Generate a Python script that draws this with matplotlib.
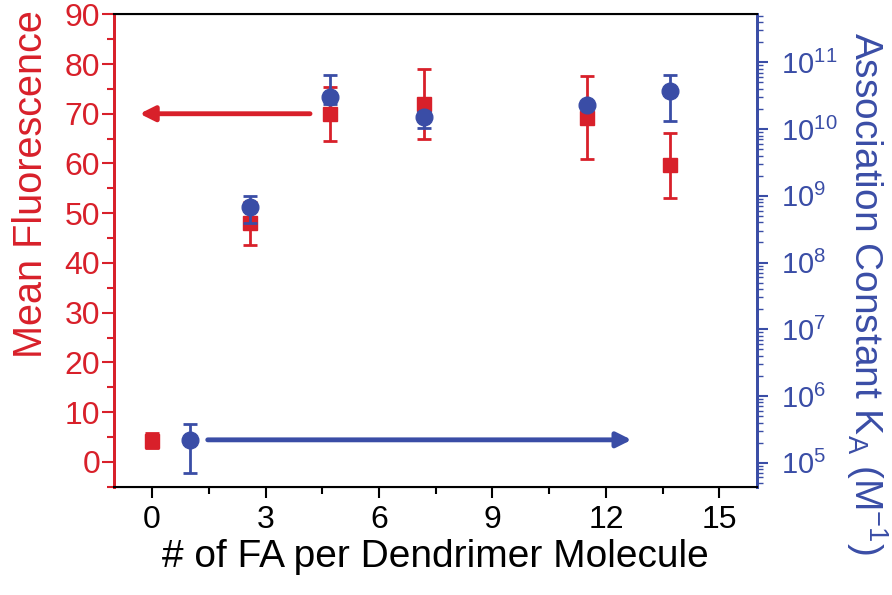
import numpy as np
import matplotlib
matplotlib.use("Agg")
import matplotlib.pyplot as plt
from matplotlib.ticker import MultipleLocator, LogLocator, NullFormatter, FixedLocator

plt.rcParams["font.family"] = ["Liberation Sans", "DejaVu Sans"]
plt.rcParams["mathtext.fontset"] = "custom"
plt.rcParams["mathtext.rm"] = "Liberation Sans"
plt.rcParams["mathtext.it"] = "Liberation Sans:italic"

# Datos: fluorescencia media (eje izquierdo)
fa_fluor = [0, 2.6, 4.7, 7.2, 11.5, 13.7]
fluor = [4.2, 48, 70, 72, 69.2, 59.6]
fluor_err = [1.5, 4.3, 5.4, 7.0, 8.4, 6.6]

# Datos: constante de asociacion KA (eje derecho, log)
fa_ka = [1.0, 2.6, 4.7, 7.2, 11.5, 13.7]
ka = [2.2e5, 6.8e8, 3.0e10, 1.5e10, 2.3e10, 3.7e10]
ka_err_low = [1.5e5, 2.9e8, 0.6e10, 0.45e10, 0.2e10, 2.4e10]
ka_err_up = [1.6e5, 3.2e8, 3.5e10, 0.3e10, 0.2e10, 2.8e10]

# Ticks del eje derecho
ka_ticks = 10.0 ** np.arange(5, 12)

rojo = "#D8202A"
azul = "#3A4DA6"

fig = plt.figure(figsize=(8.92, 5.95), dpi=100)
ax1 = fig.add_axes([0.128, 0.182, 0.721, 0.794])
ax2 = ax1.twinx()

ax1.errorbar(fa_fluor, fluor, yerr=fluor_err, fmt="s", color=rojo, ms=10,
             elinewidth=2, capsize=5, capthick=2, zorder=3)
ax2.errorbar(fa_ka, ka, yerr=[ka_err_low, ka_err_up], fmt="o", color=azul, ms=12,
             elinewidth=2, capsize=5, capthick=2, zorder=3)

# Flechas indicando el eje de cada serie
ax1.annotate("", xy=(-0.4, 70), xytext=(4.25, 70),
             arrowprops=dict(arrowstyle="-|>", color=rojo, lw=3.5, mutation_scale=22))
ax2.annotate("", xy=(12.75, ka[0]), xytext=(1.4, ka[0]),
             arrowprops=dict(arrowstyle="-|>", color=azul, lw=3.5, mutation_scale=22))

ax1.set_xlim(-1, 16)
ax1.set_ylim(-5, 90)
ax2.set_yscale("log")
ax2.set_ylim(10**4.64, 10**11.72)

ax1.xaxis.set_major_locator(MultipleLocator(3))
ax1.xaxis.set_minor_locator(MultipleLocator(1.5))
ax1.yaxis.set_major_locator(MultipleLocator(10))
ax1.yaxis.set_minor_locator(MultipleLocator(5))
ax2.yaxis.set_major_locator(FixedLocator(ka_ticks))
ax2.yaxis.set_minor_locator(LogLocator(base=10, subs=np.arange(2, 10), numticks=20))
ax2.yaxis.set_minor_formatter(NullFormatter())

ax1.tick_params(axis="x", which="major", direction="out", length=8, width=1.5,
                labelsize=23, pad=5, colors="black")
ax1.tick_params(axis="x", which="minor", direction="out", length=5, width=1.5)
ax1.tick_params(axis="y", which="major", direction="out", length=9, width=1.5,
                labelsize=23, colors=rojo, pad=1)
ax1.tick_params(axis="y", which="minor", direction="out", length=5, width=1.5, colors=rojo)
ax2.tick_params(axis="y", which="major", direction="out", length=8, width=1.5,
                labelsize=21, colors=azul, pad=9)
ax2.tick_params(axis="y", which="minor", direction="out", length=4, width=1.0, colors=azul)

for sp in ["top", "bottom"]:
    ax2.spines[sp].set_color("black")
    ax2.spines[sp].set_linewidth(1.5)
for a in [ax1, ax2]:
    a.spines["left"].set_color(rojo)
    a.spines["left"].set_linewidth(2)
    a.spines["right"].set_color(azul)
    a.spines["right"].set_linewidth(2)

ax1.set_xlabel("# of FA per Dendrimer Molecule", fontsize=28, labelpad=3)
ax1.set_ylabel("Mean Fluorescence", fontsize=28.5, color=rojo)
ax1.yaxis.set_label_coords(-0.10, 0.64)
ax2.set_ylabel(r"Association Constant K$_\mathrm{A}$ (M$^\mathrm{-1}$)", fontsize=28,
               color=azul, rotation=270, va="center")
ax2.yaxis.set_label_coords(1.17, 0.41)

fig.savefig("out.png", dpi=100)
